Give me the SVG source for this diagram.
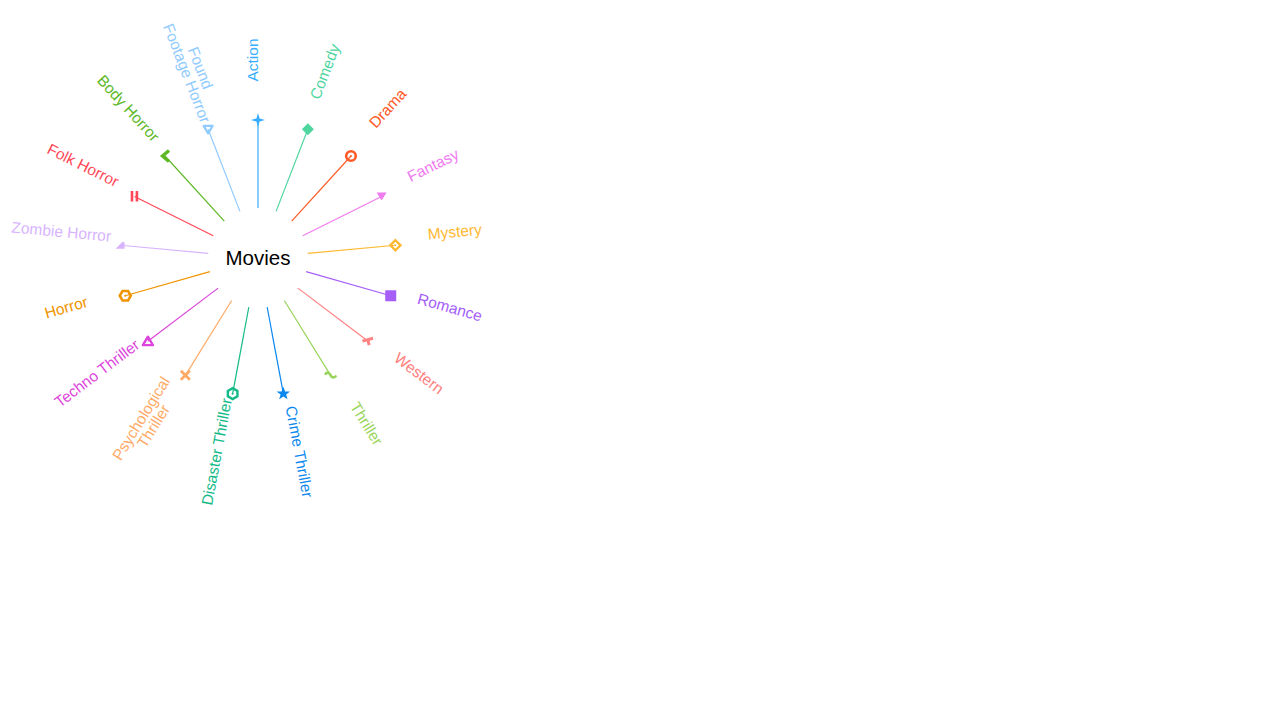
<svg xmlns="http://www.w3.org/2000/svg" width="1280" height="720" viewBox="0 0 1280 720">
<style>
text{font-family:"Liberation Sans",Arial,sans-serif;font-size:15.5px}
.root{font-size:20.5px;fill:#000}
.e{stroke-width:1.2;fill:none}
</style>
<rect width="1280" height="720" fill="#fff"/>
<g id="connectors">
<line class="e" stroke="#36adff" x1="258" y1="208" x2="258" y2="120"/>
<line class="e" stroke="#4fd69f" x1="276.06" y1="211.38" x2="307.85" y2="129.32"/>
<line class="e" stroke="#ff5a26" x1="291.69" y1="221.05" x2="350.97" y2="156.02"/>
<line class="e" stroke="#f07cf0" x1="302.76" y1="235.72" x2="381.54" y2="196.49"/>
<line class="e" stroke="#ffb830" x1="307.79" y1="253.39" x2="395.41" y2="245.26"/>
<line class="e" stroke="#a55ef8" x1="306.09" y1="271.69" x2="390.73" y2="295.77"/>
<line class="e" stroke="#ff8080" x1="297.9" y1="288.13" x2="368.12" y2="341.16"/>
<line class="e" stroke="#99d45a" x1="284.32" y1="300.51" x2="330.64" y2="375.33"/>
<line class="e" stroke="#0a88f0" x1="267.19" y1="307.15" x2="283.35" y2="393.65"/>
<line class="e" stroke="#14bb88" x1="248.82" y1="307.15" x2="232.65" y2="393.65"/>
<line class="e" stroke="#ffaa66" x1="231.68" y1="300.51" x2="185.36" y2="375.33"/>
<line class="e" stroke="#dd44dd" x1="218.1" y1="288.13" x2="147.88" y2="341.16"/>
<line class="e" stroke="#f09400" x1="209.91" y1="271.69" x2="125.27" y2="295.77"/>
<line class="e" stroke="#d8b4fe" x1="208.22" y1="253.39" x2="120.59" y2="245.26"/>
<line class="e" stroke="#ff4757" x1="213.24" y1="235.72" x2="134.46" y2="196.49"/>
<line class="e" stroke="#5cb825" x1="224.32" y1="221.05" x2="165.03" y2="156.02"/>
<line class="e" stroke="#8fcbff" x1="239.94" y1="211.38" x2="208.15" y2="129.32"/>
</g>
<g id="movies"><text class="root" x="258" y="258" text-anchor="middle" dy="0.35em">Movies</text></g>
<g id="action">
<path transform="translate(258,120)" fill="#36adff" d="M0,-7 L1.6,-1.6 L7,0 L1.6,1.6 L0,7 L-1.6,1.6 L-7,0 L-1.6,-1.6Z"/>
<text fill="#36adff" text-anchor="middle" dy="0.02em" transform="translate(258,60) rotate(-90)">Action</text>
</g>
<g id="comedy">
<path transform="translate(307.85,129.32)" fill="#4fd69f" d="M0,-6 L6,0 L0,6 L-6,0Z"/>
<text fill="#4fd69f" text-anchor="middle" dy="0.02em" transform="translate(329.52,73.37) rotate(-68.82)">Comedy</text>
</g>
<g id="drama">
<circle cx="350.97" cy="156.02" r="4.8" fill="none" stroke="#ff5a26" stroke-width="2.6"/>
<circle cx="350.97" cy="156.02" r="1" fill="#ff5a26"/>
<text fill="#ff5a26" text-anchor="middle" dy="0.02em" transform="translate(391.39,111.68) rotate(-47.65)">Drama</text>
</g>
<g id="fantasy">
<path transform="translate(381.54,196.49)" fill="#f07cf0" d="M-5,-4 L5,-4 L0,4Z"/>
<text fill="#f07cf0" text-anchor="middle" dy="0.02em" transform="translate(435.25,169.75) rotate(-26.47)">Fantasy</text>
</g>
<g id="mystery">
<path transform="translate(395.41,245.26)" fill="none" stroke="#ffb830" stroke-width="2.4" d="M0,-5 L5,0 L0,5 L-5,0Z"/>
<circle cx="395.41" cy="245.26" r="0.9" fill="#ffb830"/>
<text fill="#ffb830" text-anchor="middle" dy="0.02em" transform="translate(455.15,236.72) rotate(-5.29)">Mystery</text>
</g>
<g id="romance">
<rect x="385.23" y="290.27" width="11" height="11" fill="#a55ef8"/>
<text fill="#a55ef8" text-anchor="middle" dy="0.02em" transform="translate(448.44,312.19) rotate(15.88)">Romance</text>
</g>
<g id="western">
<path transform="translate(368.12,341.16) rotate(-15)" fill="#ff8080" d="M-5.5,-3 L5.5,-3 L5.5,0 L1.5,0 L1.5,4 L-1.5,4 L-1.5,0 L-5.5,0Z"/>
<text fill="#ff8080" text-anchor="middle" dy="0.02em" transform="translate(416,377.31) rotate(37.06)">Western</text>
</g>
<g id="thriller">
<path transform="translate(330.64,375.33)" fill="none" stroke="#99d45a" stroke-width="2.6" stroke-linecap="round" d="M-5,-1.5 C-3,-4 -1,-2 0,0 C1,2 3,3 5,1"/>
<text fill="#99d45a" text-anchor="middle" dy="0.02em" transform="translate(362.23,426.34) rotate(58.24)">Thriller</text>
</g>
<g id="crime-thriller">
<path transform="translate(283.35,393.65)" fill="#0a88f0" d="M0,-7 L1.8,-2.2 L6.7,-2.2 L2.8,0.9 L4.2,5.7 L0,2.8 L-4.2,5.7 L-2.8,0.9 L-6.7,-2.2 L-1.8,-2.2Z"/>
<text fill="#0a88f0" text-anchor="middle" dy="0.02em" transform="translate(294.37,452.63) rotate(79.41)">Crime Thriller</text>
</g>
<g id="disaster-thriller">
<path transform="translate(232.65,393.65)" fill="none" stroke="#14bb88" stroke-width="2.4" d="M0,-5.5 L4.8,-2.75 L4.8,2.75 L0,5.5 L-4.8,2.75 L-4.8,-2.75Z"/>
<circle cx="232.65" cy="393.65" r="1" fill="#14bb88"/>
<text fill="#14bb88" text-anchor="middle" dy="0.02em" transform="translate(221.63,452.63) rotate(-79.41)">Disaster Thriller</text>
</g>
<g id="psychological-thriller">
<path transform="translate(185.36,375.33)" fill="none" stroke="#ffaa66" stroke-width="2.8" d="M-4.5,-4.5 L4.5,4.5 M4.5,-4.5 L-4.5,4.5"/>
<text fill="#ffaa66" text-anchor="middle" transform="translate(153.77,426.34) rotate(-58.24)"><tspan x="0" dy="-0.62em">Psychological</tspan><tspan x="0" dy="0.94em">Thriller</tspan></text>
</g>
<g id="techno-thriller">
<path transform="translate(147.88,341.16)" fill="none" stroke="#dd44dd" stroke-width="2.4" stroke-linejoin="round" d="M0,-4.5 L5,4 L-5,4Z"/>
<text fill="#dd44dd" text-anchor="middle" dy="0.02em" transform="translate(100,377.31) rotate(-37.06)">Techno Thriller</text>
</g>
<g id="horror">
<path transform="translate(125.27,295.77)" fill="none" stroke="#f09400" stroke-width="2.6" d="M-5.5,0 L-2.75,-4.8 L2.75,-4.8 L5.5,0 L2.75,4.8 L-2.75,4.8Z"/>
<circle cx="125.27" cy="295.77" r="1" fill="#f09400"/>
<text fill="#f09400" text-anchor="middle" dy="0.02em" transform="translate(67.56,312.19) rotate(-15.88)">Horror</text>
</g>
<g id="zombie-horror">
<path transform="translate(120.59,245.26)" fill="#d8b4fe" d="M-5,3.5 L2,-3.5 Q4,-4 4,-2 L4,3.5Z"/>
<text fill="#d8b4fe" text-anchor="middle" dy="0.02em" transform="translate(60.85,236.72) rotate(5.29)">Zombie Horror</text>
</g>
<g id="folk-horror">
<rect x="130.7" y="191" width="2.6" height="10.5" fill="#ff4757"/>
<rect x="135.6" y="191" width="2.6" height="10.5" fill="#ff4757"/>
<text fill="#ff4757" text-anchor="middle" dy="0.02em" transform="translate(80.75,169.75) rotate(26.47)">Folk Horror</text>
</g>
<g id="body-horror">
<path transform="translate(165.03,156.02)" fill="none" stroke="#5cb825" stroke-width="3.4" d="M4,-5.5 L-2.5,0 L4,5.5"/>
<text fill="#5cb825" text-anchor="middle" dy="0.02em" transform="translate(124.61,111.68) rotate(47.65)">Body Horror</text>
</g>
<g id="found-footage-horror">
<path transform="translate(208.15,129.32)" fill="none" stroke="#8fcbff" stroke-width="2.2" stroke-linejoin="round" d="M-4.5,-3.5 L4.5,-3.5 L0,4Z"/>
<text fill="#8fcbff" text-anchor="middle" transform="translate(186.48,73.37) rotate(68.82)"><tspan x="0" dy="-0.62em">Found</tspan><tspan x="0" dy="0.94em">Footage Horror</tspan></text>
</g>
</svg>
